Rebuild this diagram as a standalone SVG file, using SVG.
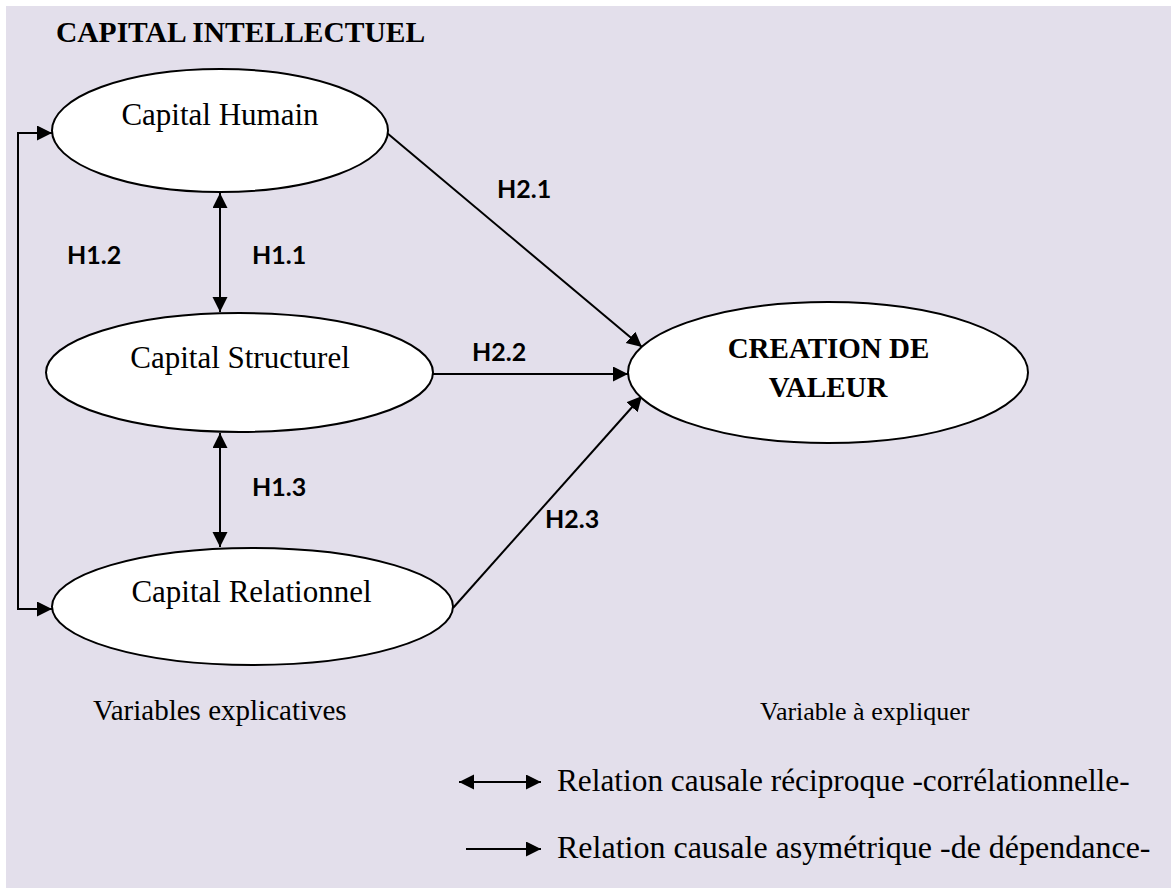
<svg xmlns="http://www.w3.org/2000/svg" width="1171" height="888" viewBox="0 0 1171 888">
  <style>
    .bg { fill: #e3dfeb; }
    .node { fill: #ffffff; stroke: #000000; stroke-width: 2; }
    .serif { font-family: "Liberation Serif", "Times New Roman", serif; fill: #000000; }
    .mid { text-anchor: middle; }
    .bold { font-weight: bold; }
    .hyp { font-family: Lato, "Liberation Sans", sans-serif; font-weight: bold; fill: #000000; }
    .link { fill: none; stroke: #000000; stroke-width: 2; }
  </style>
  <defs>
    <marker id="arrow" markerUnits="userSpaceOnUse" markerWidth="16" markerHeight="16" refX="15" refY="7.5" orient="auto-start-reverse">
      <path d="M0,0 L15,7.5 L0,15 z" fill="#000000"/>
    </marker>
  </defs>

  <!-- page background -->
  <rect class="bg" x="6" y="6" width="1165" height="882"/>

  <text class="serif bold" x="56" y="42" font-size="29.5">CAPITAL INTELLECTUEL</text>

  <!-- connectors -->
  <g id="connectors">
    <path class="link" d="M52,133 H18 V609 H52" marker-start="url(#arrow)" marker-end="url(#arrow)"/>
    <path class="link" d="M220,193 V312" marker-start="url(#arrow)" marker-end="url(#arrow)"/>
    <path class="link" d="M220,433 V547" marker-start="url(#arrow)" marker-end="url(#arrow)"/>
    <path class="link" d="M387,133 L642,347" marker-end="url(#arrow)"/>
    <path class="link" d="M432,374 L628,374" marker-end="url(#arrow)"/>
    <path class="link" d="M453,608 L642,396" marker-end="url(#arrow)"/>
  </g>

  <!-- hypothesis labels -->
  <g id="labels" font-size="25">
    <text class="hyp" x="67" y="264">H1.2</text>
    <text class="hyp" x="252" y="264">H1.1</text>
    <text class="hyp" x="252" y="496">H1.3</text>
    <text class="hyp" x="497" y="198">H2.1</text>
    <text class="hyp" x="472" y="361">H2.2</text>
    <text class="hyp" x="545" y="528">H2.3</text>
  </g>

  <g id="capital-humain">
    <ellipse class="node" cx="220" cy="130.5" rx="168" ry="61.5"/>
    <text class="serif mid" x="220" y="125" font-size="31">Capital Humain</text>
  </g>

  <g id="capital-structurel">
    <ellipse class="node" cx="239.5" cy="372.5" rx="193.5" ry="59.5"/>
    <text class="serif mid" x="240" y="368" font-size="31">Capital Structurel</text>
  </g>

  <g id="capital-relationnel">
    <ellipse class="node" cx="252.5" cy="606.5" rx="200.5" ry="58.5"/>
    <text class="serif mid" x="251.5" y="602" font-size="31">Capital Relationnel</text>
  </g>

  <g id="creation-valeur">
    <ellipse class="node" cx="828" cy="372.5" rx="200" ry="70.5"/>
    <text class="serif mid bold" x="828.5" y="358" font-size="29">CREATION DE</text>
    <text class="serif mid bold" x="828" y="397" font-size="29">VALEUR</text>
  </g>

  <!-- captions -->
  <text class="serif" x="93" y="720" font-size="29">Variables explicatives</text>
  <text class="serif" x="760" y="720" font-size="26">Variable à expliquer</text>

  <!-- legend -->
  <g id="legend">
    <path class="link" d="M459,782 H541" marker-start="url(#arrow)" marker-end="url(#arrow)"/>
    <path class="link" d="M466,849 H541" marker-end="url(#arrow)"/>
    <text class="serif" x="557" y="791" font-size="31.3">Relation causale réciproque -corrélationnelle-</text>
    <text class="serif" x="557" y="858" font-size="32">Relation causale asymétrique -de dépendance-</text>
  </g>
</svg>
